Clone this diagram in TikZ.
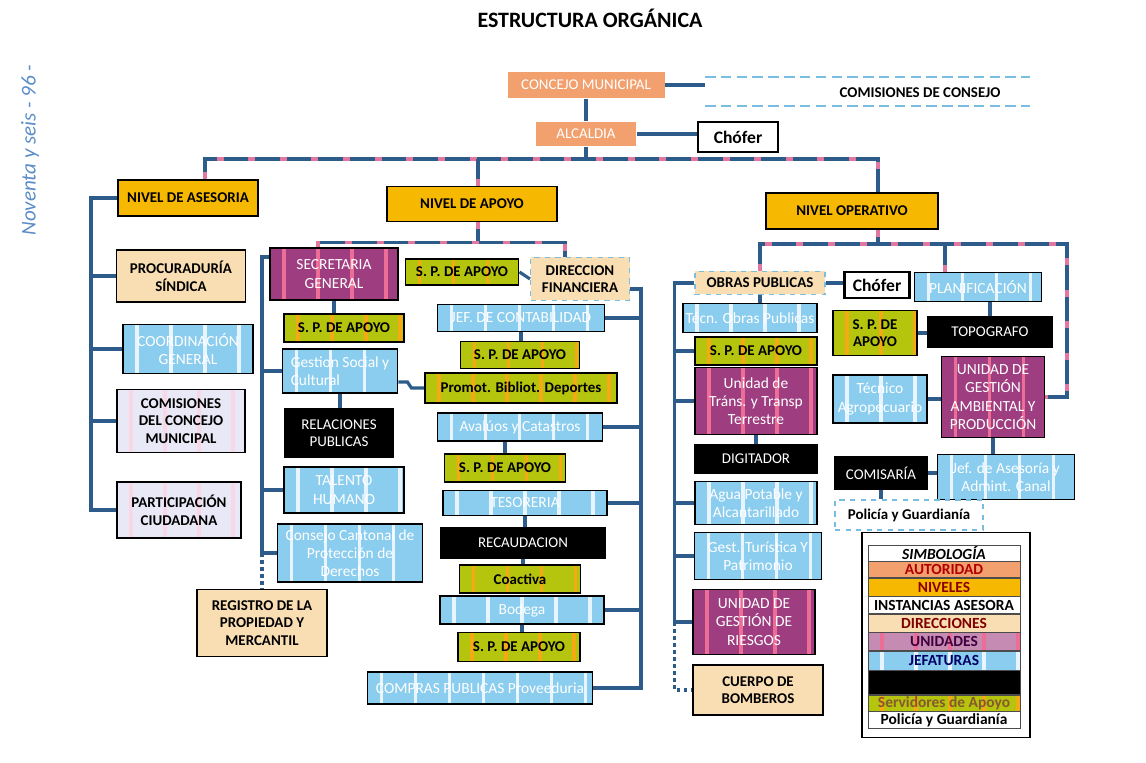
\documentclass[tikz,border=0pt]{standalone}
\usepackage{fontspec}
\setmainfont{Carlito}
\usetikzlibrary{positioning}

\definecolor{cAut}{RGB}{241,160,110}
\definecolor{cNiv}{RGB}{246,184,0}
\definecolor{cDir}{RGB}{248,222,178}
\definecolor{cUni}{RGB}{158,62,128}
\definecolor{cUniR}{RGB}{236,110,150}
\definecolor{cJef}{RGB}{138,205,238}
\definecolor{cJefR}{RGB}{232,244,255}
\definecolor{cSer}{RGB}{181,196,12}
\definecolor{cSerR}{RGB}{244,170,20}
\definecolor{cAse}{RGB}{232,232,246}
\definecolor{cAseR}{RGB}{248,215,230}
\definecolor{cLink}{RGB}{45,92,138}
\definecolor{cPink}{RGB}{226,120,160}
\definecolor{cDash}{RGB}{120,190,225}
\definecolor{cHand}{RGB}{90,140,200}

\tikzset{
sz/.style 2 args={minimum width=#1*0.02cm, minimum height=#2*0.02cm},
rayas/.style={path picture={ % vertical stripes of the print
  \foreach \k in {0,...,7}
    \draw[#1, line width=2pt]
      ([xshift=\k*0.68cm+0.28cm]path picture bounding box.south west) --
      ([xshift=\k*0.68cm+0.28cm]path picture bounding box.north west);}},
caja/.style={ % Sets the properties for every box
draw=black,
line width=1.1pt,
inner sep=1pt,
align=center,
font=\fontsize{8.5}{10}\selectfont\bfseries},
blanco/.style={text=white, font=\fontsize{8.8}{10.4}\selectfont}, % white text of coloured boxes
autoridad/.style={caja, draw=none, fill=cAut, blanco, font=\fontsize{8.5}{10}\selectfont},
nivel/.style={caja, fill=cNiv},
direccion/.style={caja, fill=cDir},
asesor/.style={caja, fill=cAse, rayas=cAseR},
unidad/.style={caja, fill=cUni, rayas=cUniR, blanco},
jefatura/.style={caja, fill=cJef, rayas=cJefR, blanco},
negro/.style={caja, fill=black, blanco, font=\fontsize{8.5}{10}\selectfont},
servidor/.style={caja, fill=cSer, rayas=cSerR},
chofer/.style={caja, fill=white, line width=1.4pt, font=\fontsize{10}{12}\selectfont\bfseries},
punteado/.style={draw=cDash, dashed, line width=0.6pt}, % light dotted frame
conn/.style={draw=cLink, line width=1.8pt},
bus/.style={conn, postaction={draw=cPink, line width=1.8pt, dash pattern=on 4pt off 14pt}},
puntos/.style={draw=cLink, line width=1.8pt, dash pattern=on 2pt off 2pt},
rayacom/.style={draw=cDash, line width=0.9pt, dash pattern=on 6pt off 3pt},
fila/.style={draw=black!70, line width=0.3pt, inner sep=0pt, minimum width=3.04cm,
  minimum height=#1*0.02cm, font=\fontsize{8.8}{10}\selectfont\bfseries}}

\begin{document}
\begin{tikzpicture}[x=0.02cm, y=-0.02cm]
\useasboundingbox (0,0) rectangle (1146,763);

\node[font=\fontsize{12.5}{14}\selectfont\bfseries] (titulo) at (590,18) {ESTRUCTURA ORGÁNICA};
\node[rotate=90, text=cHand, font=\fontsize{12}{14}\selectfont\itshape] (nota) at (30,150) {Noventa y seis - 96 -};

\node[autoridad, sz={157}{26}] (concejo) at (586,85) {CONCEJO MUNICIPAL};
\node[autoridad, sz={100}{24}] (alcaldia) at (586,134) {ALCALDIA};
\node[chofer, sz={80}{30}] (chofer1) at (738,137) {Chófer};
\node[font=\fontsize{8.5}{10}\selectfont\bfseries] (comisTxt) at (920,93) {COMISIONES DE CONSEJO};
\coordinate (comIzq) at (705,85);
\coordinate (comA) at (705,77);
\coordinate (comB) at (1030,77);
\coordinate (comC) at (705,106);
\coordinate (comD) at (1030,106);

\node[nivel, sz={140}{36}] (asesoria) at (188,198) {NIVEL DE ASESORIA};
\node[nivel, sz={170}{35}] (apoyo) at (472,204) {NIVEL DE APOYO};
\node[nivel, sz={172}{36}] (operativo) at (852,211) {NIVEL OPERATIVO};

\node[direccion, sz={129}{52}] (procura) at (181,276) {PROCURADURÍA\\SÍNDICA};
\node[jefatura, sz={130}{49}] (coord) at (188,349) {COORDINACIÓN\\GENERAL};
\node[asesor, sz={128}{63}] (comis2) at (181,421) {COMISIONES\\DEL CONCEJO\\MUNICIPAL};
\node[asesor, sz={124}{56}] (particip) at (179,510) {PARTICIPACIÓN\\CIUDADANA};

\node[unidad, sz={128}{52}] (secret) at (334,274) {SECRETARIA\\GENERAL};
\node[servidor, sz={120}{28}] (spSec) at (344,328) {S. P. DE APOYO};
\node[jefatura, sz={115}{44}, align=left] (gestion) at (340,371) {Gestion Social y\\Cultural};
\node[negro, sz={109}{48}] (relac) at (339,433) {RELACIONES\\PUBLICAS};
\node[jefatura, sz={120}{46}] (talento) at (344,490) {TALENTO\\HUMANO};
\node[jefatura, sz={145}{58}] (cantonal) at (350,553) {Consejo Cantonal de\\Protección de\\Derechos};
\node[direccion, sz={130}{67}] (registro) at (262,623) {REGISTRO DE LA\\PROPIEDAD Y\\MERCANTIL};

\node[servidor, sz={113}{26}] (spDir) at (462,272) {S. P. DE APOYO};
\node[direccion, punteado, sz={99}{43}] (direcc) at (580,279) {DIRECCION\\FINANCIERA};
\node[jefatura, sz={167}{27}] (contab) at (521,318) {JEF. DE CONTABILIDAD};
\node[servidor, sz={119}{27}] (spCont) at (520,355) {S. P. DE APOYO};
\node[servidor, sz={192}{30}] (promot) at (521,388) {Promot. Bibliot. Deportes};
\node[jefatura, sz={165}{28}] (avaluos) at (520,427) {Avalúos y Catastros};
\node[servidor, sz={121}{28}] (spAval) at (505,468) {S. P. DE APOYO};
\node[jefatura, sz={164}{25}] (tesor) at (525,503) {TESORERIA};
\node[negro, sz={165}{30}] (recaud) at (523,543) {RECAUDACION};
\node[servidor, sz={121}{28}] (coactiva) at (520,579) {Coactiva};
\node[jefatura, sz={164}{28}] (bodega) at (522,610) {Bodega};
\node[servidor, sz={122}{29}] (spBod) at (519,647) {S. P. DE APOYO};
\node[jefatura, sz={225}{32}] (compras) at (480,688) {COMPRAS PUBLICAS Proveeduria};

\node[direccion, punteado, sz={130}{23}] (obras) at (760,283) {OBRAS PUBLICAS};
\node[jefatura, sz={134}{29}] (tecn) at (750,318) {Técn. Obras Publicas};
\node[servidor, sz={122}{28}] (spObr) at (756,351) {S. P. DE APOYO};
\node[unidad, sz={122}{67}] (transito) at (756,401) {Unidad de\\Tráns. y Transp\\Terrestre};
\node[negro, sz={123}{28}] (digit) at (756,459) {DIGITADOR};
\node[jefatura, sz={122}{43}] (agua) at (756,503) {Agua Potable y\\Alcantarillado};
\node[jefatura, sz={127}{47}] (turist) at (758,556) {Gest. Turística Y\\Patrimonio};
\node[unidad, sz={122}{65}] (riesgos) at (754,622) {UNIDAD DE\\GESTIÓN DE\\RIESGOS};
\node[direccion, sz={130}{50}] (bomberos) at (758,690) {CUERPO DE\\BOMBEROS};

\node[chofer, sz={65}{26}] (chofer2) at (877,285) {Chófer};
\node[jefatura, sz={127}{29}] (planif) at (978,287) {PLANIFICACIÓN};
\node[servidor, sz={84}{45}] (spPla) at (875,333) {S. P. DE\\APOYO};
\node[negro, sz={124}{30}] (topo) at (990,332) {TOPOGRAFO};
\node[jefatura, sz={94}{48}] (tecagro) at (880,399) {Técnico\\Agropecuario};
\node[unidad, sz={103}{81}] (ambiental) at (993,397) {UNIDAD DE\\GESTIÓN\\AMBIENTAL Y\\PRODUCCIÓN};
\node[negro, sz={93}{33}] (comisaria) at (881,473) {COMISARÍA};
\node[jefatura, sz={137}{45}] (jefase) at (1006,477) {Jef. de Asesoría y\\Admint. Canal};
\node[caja, punteado, fill=white, sz={148}{30}] (policia) at (909,515) {Policía y Guardianía};

\node[draw, line width=0.8pt, sz={168}{205}] (leyenda) at (946,635) {};
\node[fila=16, fill=white, font=\fontsize{8.8}{10}\selectfont\bfseries\itshape] (ley0) at (944,553) {SIMBOLOGÍA};
\node[fila=16, fill=cAut, text=red!70!black] (ley1) [below=0pt of ley0] {AUTORIDAD};
\node[fila=18, fill=cNiv, text=red!55!black] (ley2) [below=0pt of ley1] {NIVELES};
\node[fila=17, fill=white] (ley3) [below=0pt of ley2] {INSTANCIAS ASESORA};
\node[fila=18, fill=cDir, text=red!50!black] (ley4) [below=0pt of ley3] {DIRECCIONES};
\node[fila=18, fill=cUni!60!white, rayas=cUniR, text=violet!50!black] (ley5) [below=0pt of ley4] {UNIDADES};
\node[fila=19, fill=cJef, rayas=cJefR, text=blue!40!black] (ley6) [below=0pt of ley5] {JEFATURAS};
\node[fila=24, fill=black] (ley7) [below=0pt of ley6] {};
\node[fila=16, fill=cSer, rayas=cSerR, text=brown!70!black] (ley8) [below=0pt of ley7] {Servidores de Apoyo};
\node[fila=17, fill=white] (ley9) [below=0pt of ley8] {Policía y Guardianía};

\draw[conn] (concejo.east) -- (comIzq);
\draw[rayacom] (comA) -- (comB);
\draw[rayacom] (comC) -- (comD);
\draw[conn] (concejo.south) -- (alcaldia.north);
\draw[conn] (alcaldia.east) -- (alcaldia.east -| chofer1.west);
\draw[conn] (alcaldia.south) -- ++(0,12) coordinate (busTop);
\draw[bus] ([xshift=0.34cm]asesoria.north) |- (busTop) -| ([xshift=0.52cm]operativo.north);
\draw[bus] ([xshift=0.12cm]apoyo.north) -- ([xshift=0.12cm]apoyo.north |- busTop);

\draw[conn] (asesoria.west) -- ++(-26,0) coordinate (aseBus) |- (particip.west);
\foreach \n in {procura,coord,comis2}
  \draw[conn] (\n.west) -- (\n.west -| aseBus);

\draw[bus] ([xshift=0.12cm]apoyo.south) -- ++(0,20) coordinate (apoBus);
\draw[bus] ([xshift=-0.32cm]secret.north) |- (apoBus) -| ([xshift=-0.3cm]direcc.north);

\draw[conn] ([yshift=-0.2cm]secret.north west) -- ++(-7,0) coordinate (secBus) |- (cantonal.west);
\foreach \n in {gestion,talento}
  \draw[conn] (\n.west) -- (\n.west -| secBus);
\draw[puntos] (secBus |- cantonal.west) -- (secBus |- registro.north);
\draw[conn] (secret.south) -- (secret.south |- spSec.north);
\draw[conn] (gestion.south) -- (gestion.south |- relac.north);
\draw[conn] ([yshift=-0.22cm]gestion.east) -- ++(9,0) -- ++(4,6) -- (promot.west);

\draw[conn] (spDir.east) -- (direcc.west);
\draw[conn] ([yshift=-0.2cm]direcc.east) -- ++(11,0) coordinate (dirBus) |- (compras.east);
\foreach \n in {contab,avaluos,tesor,bodega}
  \draw[conn] (\n.east) -- (\n.east -| dirBus);
\draw[conn] (contab.south) -- (contab.south |- spCont.north);
\draw[conn] (spAval.north) -- (spAval.north |- avaluos.south);
\draw[conn] (tesor.south) -- (tesor.south |- recaud.north);
\draw[conn] (recaud.south) -- (recaud.south |- coactiva.north);
\draw[conn] (bodega.south) -- (bodega.south |- spBod.north);

\draw[bus] ([xshift=0.52cm]operativo.south) -- ++(0,15) coordinate (opBus);
\coordinate (opDer) at (1067,244);
\draw[bus] (obras.north) |- (opDer) |- (ambiental.east);
\draw[bus] ([xshift=-0.66cm]planif.north) -- ([xshift=-0.66cm]planif.north |- opDer);

\draw[conn] (obras.west) -- ++(-20,0) coordinate (obBus) |- (riesgos.west);
\foreach \n in {spObr,transito,agua,turist}
  \draw[conn] (\n.west) -- (\n.west -| obBus);
\draw[puntos] (obBus |- riesgos.west) |- (bomberos.west);
\draw[conn] (obras.south) -- (obras.south |- tecn.north);
\draw[conn] (transito.south) -- (transito.south |- digit.north);
\draw[conn] (obras.east) -- (obras.east -| chofer2.west);
\draw[conn] (topo.north) -- (topo.north |- planif.south);
\draw[conn] (spPla.east) -- (spPla.east -| topo.west);
\draw[conn] (tecagro.east) -- (tecagro.east -| ambiental.west);
\draw[conn] (ambiental.south) -- (ambiental.south |- jefase.north);
\draw[conn] (comisaria.east) -- (comisaria.east -| jefase.west);
\draw[conn] (comisaria.south) -- (comisaria.south |- policia.north);
\end{tikzpicture}
\end{document}
